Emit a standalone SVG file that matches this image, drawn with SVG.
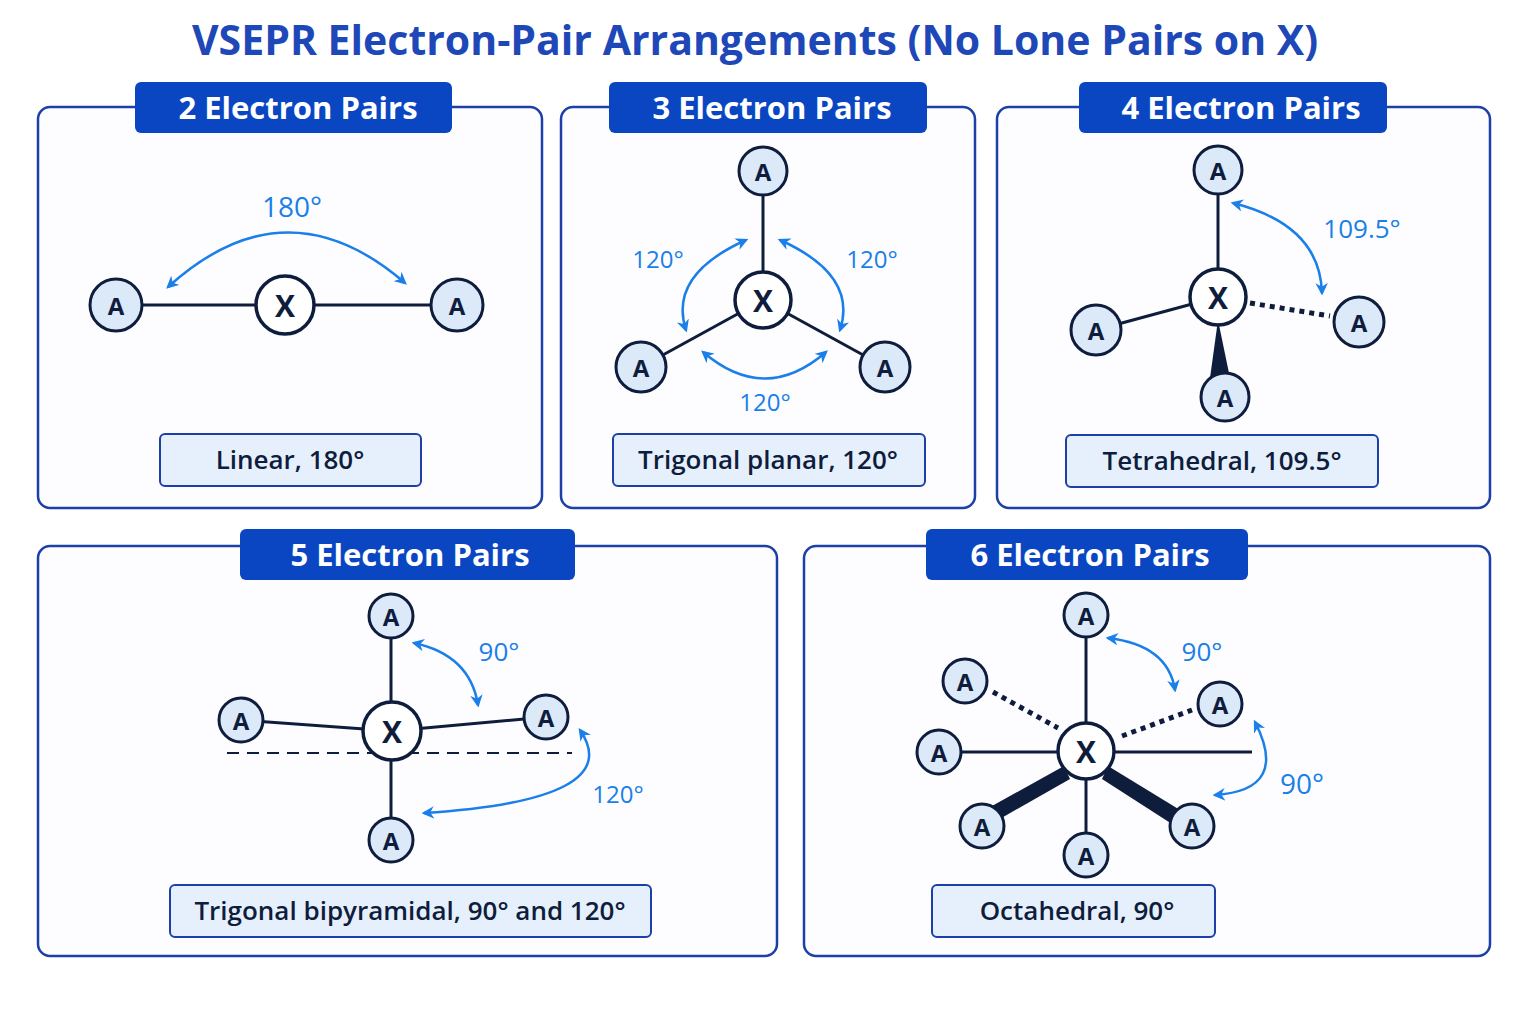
<svg xmlns="http://www.w3.org/2000/svg" width="1536" height="1024" viewBox="0 0 1536 1024">
<style>
.panel{fill:#fdfdff;stroke:#1c3fa8;stroke-width:2.5}
.tab{fill:#0a46c2}
.tabt{fill:#fff;font:bold 31px "Open Sans","Liberation Sans",sans-serif;text-anchor:middle}
.lab{fill:#e6f0fc;stroke:#1c3fa8;stroke-width:2}
.labt{fill:#0f1d3d;font:600 26px "Open Sans","Liberation Sans",sans-serif;text-anchor:middle}
.atom{fill:#dce9f9;stroke:#0f1d3d;stroke-width:3}
.xat{fill:#fff;stroke:#0f1d3d;stroke-width:3.5}
.at{fill:#0f1d3d;font:bold 24px "Open Sans","Liberation Sans",sans-serif;text-anchor:middle;dominant-baseline:central}
.xt{fill:#0f1d3d;font:bold 30px "Open Sans","Liberation Sans",sans-serif;text-anchor:middle;dominant-baseline:central}
.bond{stroke:#0f1d3d;stroke-width:3;fill:none}
.dot{stroke:#0f1d3d;stroke-width:5;stroke-dasharray:5 5;fill:none}
.wedge{fill:#0f1d3d}
.arc{stroke:#1a7fe8;stroke-width:2.5;fill:none;marker-start:url(#ah);marker-end:url(#ah)}
.ang{fill:#1a7fe8;font:500 24px "Open Sans","Liberation Sans",sans-serif;text-anchor:middle}
</style>
<defs>
<marker id="ah" viewBox="0 0 10 10" refX="8" refY="5" markerWidth="5" markerHeight="5" orient="auto-start-reverse"><path d="M0,0L10,5L0,10L3,5z" fill="#1a7fe8"/></marker>
</defs>
<rect width="1536" height="1024" fill="#fff"/>
<text x="755" y="55" style="fill:#1e48b8;font:bold 41px 'Open Sans','Liberation Sans',sans-serif;text-anchor:middle">VSEPR Electron-Pair Arrangements (No Lone Pairs on X)</text>

<g id="panels">
<rect class="panel" x="38" y="107" width="504" height="401" rx="12"/>
<rect class="panel" x="561" y="107" width="414" height="401" rx="12"/>
<rect class="panel" x="997" y="107" width="493" height="401" rx="12"/>
<rect class="panel" x="38" y="546" width="739" height="410" rx="12"/>
<rect class="panel" x="804" y="546" width="686" height="410" rx="12"/>
<rect class="tab" x="135" y="82" width="317" height="51" rx="6"/><text class="tabt" x="298" y="119">2 Electron Pairs</text>
<rect class="tab" x="609" y="82" width="318" height="51" rx="6"/><text class="tabt" x="772" y="119">3 Electron Pairs</text>
<rect class="tab" x="1079" y="82" width="308" height="51" rx="6"/><text class="tabt" x="1241" y="119">4 Electron Pairs</text>
<rect class="tab" x="240" y="529" width="335" height="51" rx="6"/><text class="tabt" x="410" y="566">5 Electron Pairs</text>
<rect class="tab" x="926" y="529" width="322" height="51" rx="6"/><text class="tabt" x="1090" y="566">6 Electron Pairs</text>
<rect class="lab" x="160" y="434" width="261" height="52" rx="5"/><text class="labt" x="290" y="469">Linear, 180°</text>
<rect class="lab" x="613" y="434" width="312" height="52" rx="5"/><text class="labt" x="768" y="469">Trigonal planar, 120°</text>
<rect class="lab" x="1066" y="435" width="312" height="52" rx="5"/><text class="labt" x="1222" y="470">Tetrahedral, 109.5°</text>
<rect class="lab" x="170" y="885" width="481" height="52" rx="5"/><text class="labt" x="410" y="920">Trigonal bipyramidal, 90° and 120°</text>
<rect class="lab" x="932" y="885" width="283" height="52" rx="5"/><text class="labt" x="1077" y="920">Octahedral, 90°</text>
</g>

<g id="connectors">
<line class="bond" x1="116" y1="305" x2="457" y2="305"/>
<line class="bond" x1="763" y1="171" x2="763" y2="300"/>
<line class="bond" x1="641" y1="367" x2="763" y2="300"/>
<line class="bond" x1="885" y1="367" x2="763" y2="300"/>
<line class="bond" x1="1218" y1="170" x2="1218" y2="297"/>
<line class="bond" x1="1096" y1="330" x2="1218" y2="297"/>
<line class="dot" x1="1250" y1="303" x2="1330" y2="316"/>
<polygon class="wedge" points="1218,320 1210,378 1230,378"/>
<line class="bond" x1="391" y1="616" x2="391" y2="840"/>
<line class="bond" x1="241" y1="720" x2="392" y2="731"/>
<line class="bond" x1="546" y1="717" x2="392" y2="731"/>
<line x1="227" y1="753" x2="572" y2="753" stroke="#0f1d3d" stroke-width="2" stroke-dasharray="12 8"/>
<line class="bond" x1="1086" y1="615" x2="1086" y2="855"/>
<line class="bond" x1="939" y1="752" x2="1252" y2="752"/>
<line class="dot" x1="993" y1="692" x2="1058" y2="728"/>
<line class="dot" x1="1122" y1="736" x2="1192" y2="710"/>
<polygon class="wedge" points="1064,766 1070,779 998,820 992,806"/>
<polygon class="wedge" points="1108,766 1102,779 1172,824 1180,810"/>
<path class="arc" d="M168,287 Q286,180 405,283"/>
<path class="arc" d="M746,240 Q668,275 686,330"/>
<path class="arc" d="M780,240 Q858,275 840,330"/>
<path class="arc" d="M703,352 Q765,405 826,352"/>
<path class="arc" d="M1233,203 Q1320,225 1322,293"/>
<path class="arc" d="M414,643 Q470,655 478,705"/>
<path class="arc" d="M580,730 Q628,800 424,813"/>
<path class="arc" d="M1108,638 Q1168,645 1175,690"/>
<path class="arc" d="M1255,722 Q1290,790 1215,795"/>
</g>
<g id="angles">
<text class="ang" x="292" y="217" style="font-size:28px">180°</text>
<text class="ang" x="658" y="268">120°</text>
<text class="ang" x="872" y="268">120°</text>
<text class="ang" x="765" y="411">120°</text>
<text class="ang" x="1362" y="238" style="font-size:26px">109.5°</text>
<text class="ang" x="499" y="661" style="font-size:26px">90°</text>
<text class="ang" x="618" y="803">120°</text>
<text class="ang" x="1202" y="661" style="font-size:26px">90°</text>
<text class="ang" x="1302" y="794" style="font-size:28px">90°</text>
</g>

<g id="n2-A1"><circle class="atom" cx="116" cy="305" r="26"/><text class="at" x="116" y="305">A</text></g>
<g id="n2-X"><circle class="xat" cx="285" cy="305" r="29"/><text class="xt" x="285" y="305">X</text></g>
<g id="n2-A2"><circle class="atom" cx="457" cy="305" r="26"/><text class="at" x="457" y="305">A</text></g>

<g id="n3-A1"><circle class="atom" cx="763" cy="171" r="24"/><text class="at" x="763" y="171">A</text></g>
<g id="n3-X"><circle class="xat" cx="763" cy="300" r="28"/><text class="xt" x="763" y="300">X</text></g>
<g id="n3-A2"><circle class="atom" cx="641" cy="367" r="25"/><text class="at" x="641" y="367">A</text></g>
<g id="n3-A3"><circle class="atom" cx="885" cy="367" r="25"/><text class="at" x="885" y="367">A</text></g>

<g id="n4-A1"><circle class="atom" cx="1218" cy="170" r="24"/><text class="at" x="1218" y="170">A</text></g>
<g id="n4-X"><circle class="xat" cx="1218" cy="297" r="28"/><text class="xt" x="1218" y="297">X</text></g>
<g id="n4-A2"><circle class="atom" cx="1096" cy="330" r="25"/><text class="at" x="1096" y="330">A</text></g>
<g id="n4-A3"><circle class="atom" cx="1359" cy="322" r="25"/><text class="at" x="1359" y="322">A</text></g>
<g id="n4-A4"><circle class="atom" cx="1225" cy="397" r="24"/><text class="at" x="1225" y="397">A</text></g>

<g id="n5-A1"><circle class="atom" cx="391" cy="616" r="22"/><text class="at" x="391" y="616">A</text></g>
<g id="n5-X"><circle class="xat" cx="392" cy="731" r="29"/><text class="xt" x="392" y="731">X</text></g>
<g id="n5-A2"><circle class="atom" cx="241" cy="720" r="22"/><text class="at" x="241" y="720">A</text></g>
<g id="n5-A3"><circle class="atom" cx="546" cy="717" r="22"/><text class="at" x="546" y="717">A</text></g>
<g id="n5-A4"><circle class="atom" cx="391" cy="840" r="22"/><text class="at" x="391" y="840">A</text></g>

<g id="n6-A1"><circle class="atom" cx="1086" cy="615" r="22"/><text class="at" x="1086" y="615">A</text></g>
<g id="n6-X"><circle class="xat" cx="1086" cy="751" r="28"/><text class="xt" x="1086" y="751">X</text></g>
<g id="n6-A2"><circle class="atom" cx="965" cy="681" r="22"/><text class="at" x="965" y="681">A</text></g>
<g id="n6-A3"><circle class="atom" cx="1220" cy="704" r="22"/><text class="at" x="1220" y="704">A</text></g>
<g id="n6-A4"><circle class="atom" cx="939" cy="752" r="22"/><text class="at" x="939" y="752">A</text></g>
<g id="n6-A5"><circle class="atom" cx="982" cy="826" r="22"/><text class="at" x="982" y="826">A</text></g>
<g id="n6-A6"><circle class="atom" cx="1192" cy="826" r="22"/><text class="at" x="1192" y="826">A</text></g>
<g id="n6-A7"><circle class="atom" cx="1086" cy="855" r="22"/><text class="at" x="1086" y="855">A</text></g>
</svg>
